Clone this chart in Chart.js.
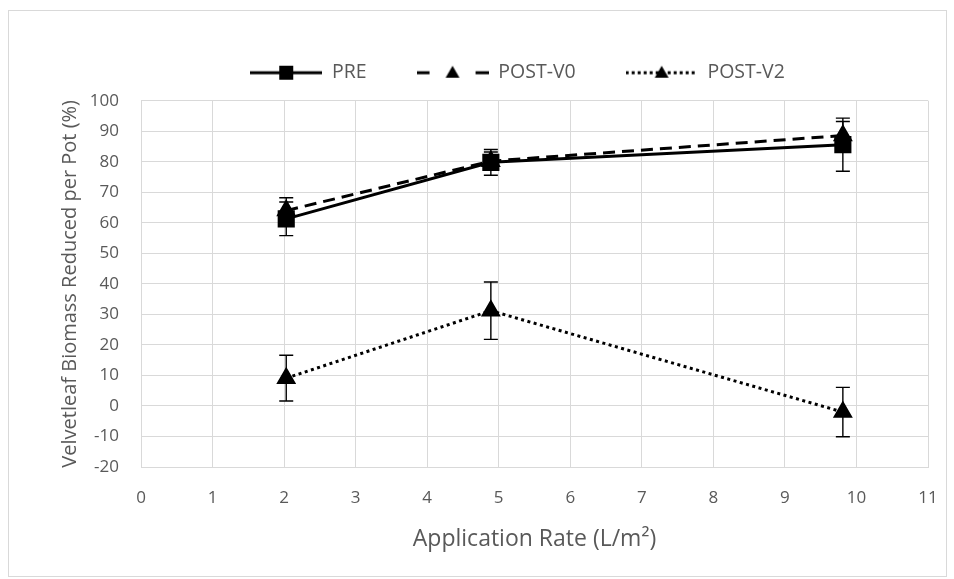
<!DOCTYPE html>
<html>
<head>
<meta charset="utf-8">
<script src="https://cdn.jsdelivr.net/npm/chart.js@4"></script>
<style>
  html, body { margin: 0; padding: 0; background: #fff; }
</style>
</head>
<body>
<canvas id="chart" width="954" height="579"></canvas>
<script>
const RATES = [2.03, 4.89, 9.81];
const PRE = [61.3, 79.8, 85.6];
const PRE_ERR = [5.5, 4.2, 8.7];
const POST_V0 = [64.0, 80.2, 88.6];
const POST_V0_ERR = [4.2, 3.0, 4.6];
const POST_V2 = [9.1, 31.2, -2.0];
const POST_V2_ERR = [7.5, 9.4, 8.1];

const SERIES_NAMES = ["PRE", "POST-V0", "POST-V2"];
const X_TITLE = "Application Rate (L/m²)";
const Y_TITLE = "Velvetleaf Biomass Reduced per Pot (%)";

const FONT = "'Open Sans', 'Liberation Sans', sans-serif";
const TEXT = "#595959";
const GRID = "#d9d9d9";

const $ctx = document.getElementById("chart");

function points(values) {
  return values.map((v, i) => ({ x: RATES[i], y: v }));
}

// little legend samples: line + marker
function legendSample(kind) {
  const c = document.createElement("canvas");
  c.width = 72;
  c.height = 18;
  const g = c.getContext("2d");
  g.strokeStyle = "#000";
  g.fillStyle = "#000";
  g.lineWidth = 3;
  if (kind === "solid") {
    g.beginPath();
    g.moveTo(0, 9);
    g.lineTo(72, 9);
    g.stroke();
    g.fillRect(29, 2, 14, 14);
  } else if (kind === "dash") {
    g.beginPath();
    g.moveTo(0, 9);
    g.lineTo(13, 9);
    g.moveTo(59, 9);
    g.lineTo(72, 9);
    g.stroke();
    tri(g, 36, 10, 8);
  } else {
    g.setLineDash([3, 3]);
    g.beginPath();
    g.moveTo(0, 9);
    g.lineTo(72, 9);
    g.stroke();
    tri(g, 36, 10, 8);
  }
  return c;
}

function tri(g, x, y, r) {
  g.beginPath();
  g.moveTo(x, y - r);
  g.lineTo(x + r * 0.866, y + r / 2);
  g.lineTo(x - r * 0.866, y + r / 2);
  g.closePath();
  g.fill();
}

const SAMPLES = [legendSample("solid"), legendSample("dash"), legendSample("dot")];

const errorBars = {
  id: "errorBars",
  afterDatasetsDraw(chart) {
    const { ctx, scales } = chart;
    ctx.save();
    ctx.strokeStyle = "#000";
    ctx.lineWidth = 1.4;
    chart.data.datasets.forEach((ds) => {
      ds.data.forEach((p, i) => {
        const e = ds.errors[i];
        const x = scales.x.getPixelForValue(p.x);
        const y1 = scales.y.getPixelForValue(p.y + e);
        const y2 = scales.y.getPixelForValue(p.y - e);
        ctx.beginPath();
        ctx.moveTo(x, y1);
        ctx.lineTo(x, y2);
        ctx.moveTo(x - 7, y1);
        ctx.lineTo(x + 7, y1);
        ctx.moveTo(x - 7, y2);
        ctx.lineTo(x + 7, y2);
        ctx.stroke();
      });
    });
    ctx.restore();
  },
};

const frame = {
  id: "frame",
  afterDraw(chart) {
    const { ctx } = chart;
    ctx.save();
    ctx.strokeStyle = GRID;
    ctx.lineWidth = 1;
    ctx.strokeRect(8.5, 10.5, 938, 566);
    ctx.restore();
  },
};

// Excel centres the legend a bit left of the plot centre
const legendNudge = {
  id: "legendNudge",
  afterLayout(chart) {
    chart.legend.left -= 17;
    chart.legend.right -= 17;
  },
};

const data = {
  datasets: [
    {
      label: SERIES_NAMES[0],
      data: points(PRE),
      errors: PRE_ERR,
      borderColor: "#000",
      backgroundColor: "#000",
      borderWidth: 3,
      pointStyle: "rect",
      pointRadius: 10,
      showLine: true,
      order: 2,
    },
    {
      label: SERIES_NAMES[1],
      data: points(POST_V0),
      errors: POST_V0_ERR,
      borderColor: "#000",
      backgroundColor: "#000",
      borderWidth: 3,
      borderDash: [12, 7],
      pointStyle: "triangle",
      pointRadius: 8.5,
      showLine: true,
      order: 1,
    },
    {
      label: SERIES_NAMES[2],
      data: points(POST_V2),
      errors: POST_V2_ERR,
      borderColor: "#000",
      backgroundColor: "#000",
      borderWidth: 3,
      borderDash: [3, 3.5],
      pointStyle: "triangle",
      pointRadius: 8.5,
      showLine: true,
      order: 0,
    },
  ],
};

new Chart($ctx, {
  type: "scatter",
  data,
  plugins: [errorBars, frame, legendNudge],
  options: {
    responsive: false,
    animation: false,
    layout: { padding: { left: 58, right: 26, top: 13, bottom: 26 } },
    plugins: {
      tooltip: { enabled: false },
      legend: {
        position: "top",
        fullSize: false,
        labels: {
          usePointStyle: true,
          pointStyleWidth: 72,
          padding: 50,
          color: TEXT,
          font: { family: FONT, size: 19.5 },
          generateLabels: () =>
            SERIES_NAMES.map((name, i) => ({
              text: name,
              pointStyle: SAMPLES[i],
              datasetIndex: i,
              fontColor: TEXT,
              lineWidth: 0,
            })),
        },
      },
      subtitle: {
        display: true,
        text: " ",
        position: "top",
        weight: 500,
        font: { size: 1 },
        padding: { top: 0, bottom: 7 },
      },
    },
    scales: {
      x: {
        type: "linear",
        min: 0,
        max: 11,
        afterFit: (s) => {
          s.height = 86;
          s.paddingLeft = 0;
          s.paddingRight = 0;
        },
        ticks: { stepSize: 1, padding: 21, color: TEXT, font: { family: FONT, size: 17 } },
        grid: { color: GRID, drawTicks: false },
        border: { color: GRID },
        title: {
          display: true,
          text: X_TITLE,
          color: TEXT,
          font: { family: FONT, size: 23 },
          padding: { top: 0, bottom: 0 },
        },
      },
      y: {
        min: -20,
        max: 100,
        afterFit: (s) => { s.width = 83; },
        ticks: { stepSize: 10, padding: 22, color: TEXT, font: { family: FONT, size: 17 } },
        grid: { color: GRID, drawTicks: false },
        border: { color: GRID },
        title: {
          display: true,
          text: Y_TITLE,
          color: TEXT,
          font: { family: FONT, size: 20 },
          padding: { top: 0, bottom: 0 },
        },
      },
    },
  },
});
</script>
</body>
</html>
